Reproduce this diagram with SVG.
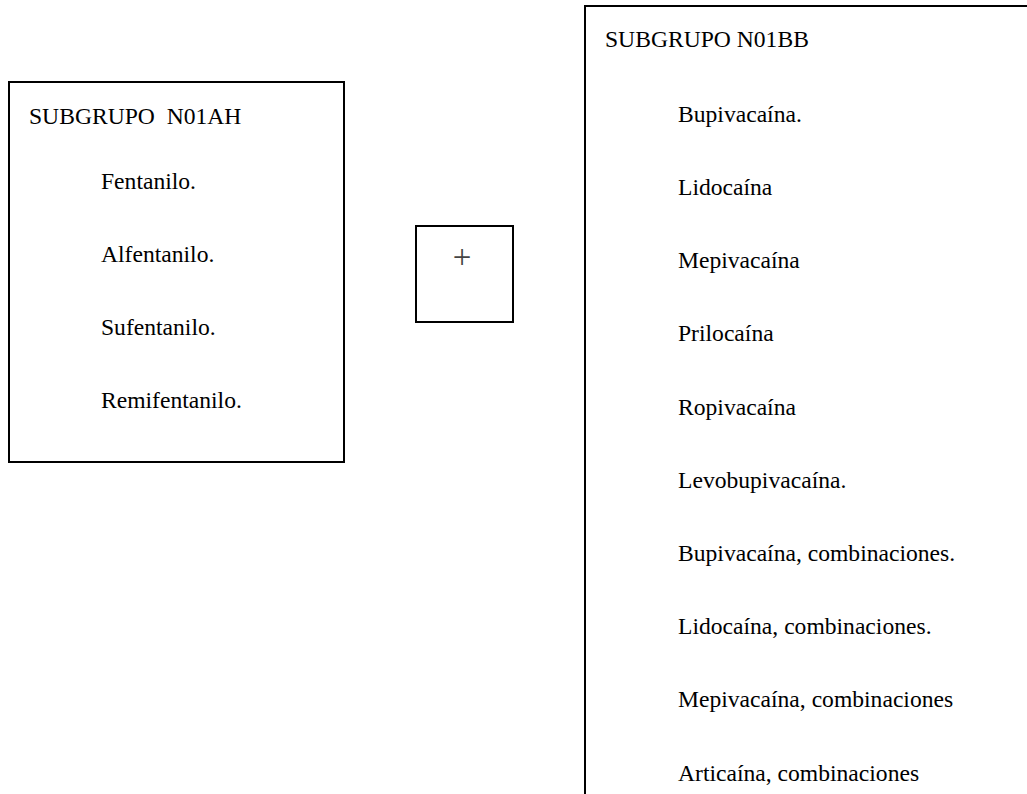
<svg xmlns="http://www.w3.org/2000/svg" width="1027" height="794" viewBox="0 0 1027 794">
  <style>
    .box { fill: #ffffff; stroke: #000000; stroke-width: 2; }
    .t { font-family: "Liberation Serif", "Times New Roman", serif; font-size: 23.6px; fill: #000000; }
    .plus { font-family: "Liberation Serif", "Times New Roman", serif; font-size: 33px; fill: #444444; text-anchor: middle; }
  </style>
  <rect width="1027" height="794" fill="#ffffff"/>

  <!-- Opioid subgroup -->
  <g id="n01ah">
    <rect class="box" x="9" y="82" width="335" height="380"/>
    <text class="t" x="29" y="124" xml:space="preserve">SUBGRUPO  N01AH</text>
    <text class="t" x="101" y="189">Fentanilo.</text>
    <text class="t" x="101" y="262">Alfentanilo.</text>
    <text class="t" x="101" y="335">Sufentanilo.</text>
    <text class="t" x="101" y="408">Remifentanilo.</text>
  </g>

  <!-- Combination sign -->
  <g id="plus">
    <rect class="box" x="416" y="226" width="97" height="96"/>
    <text class="plus" x="462" y="267.5">+</text>
  </g>

  <!-- Local anaesthetic subgroup (runs off the page to the right and below) -->
  <g id="n01bb">
    <rect class="box" x="585" y="6" width="520" height="880"/>
    <text class="t" x="605" y="47">SUBGRUPO N01BB</text>
    <text class="t" x="678" y="121.7">Bupivacaína.</text>
    <text class="t" x="678" y="194.9">Lidocaína</text>
    <text class="t" x="678" y="268.1">Mepivacaína</text>
    <text class="t" x="678" y="341.3">Prilocaína</text>
    <text class="t" x="678" y="414.5">Ropivacaína</text>
    <text class="t" x="678" y="487.7">Levobupivacaína.</text>
    <text class="t" x="678" y="560.9">Bupivacaína, combinaciones.</text>
    <text class="t" x="678" y="634.1">Lidocaína, combinaciones.</text>
    <text class="t" x="678" y="707.3">Mepivacaína, combinaciones</text>
    <text class="t" x="678" y="780.5">Articaína, combinaciones</text>
  </g>

  <g id="connectors"/>
</svg>
